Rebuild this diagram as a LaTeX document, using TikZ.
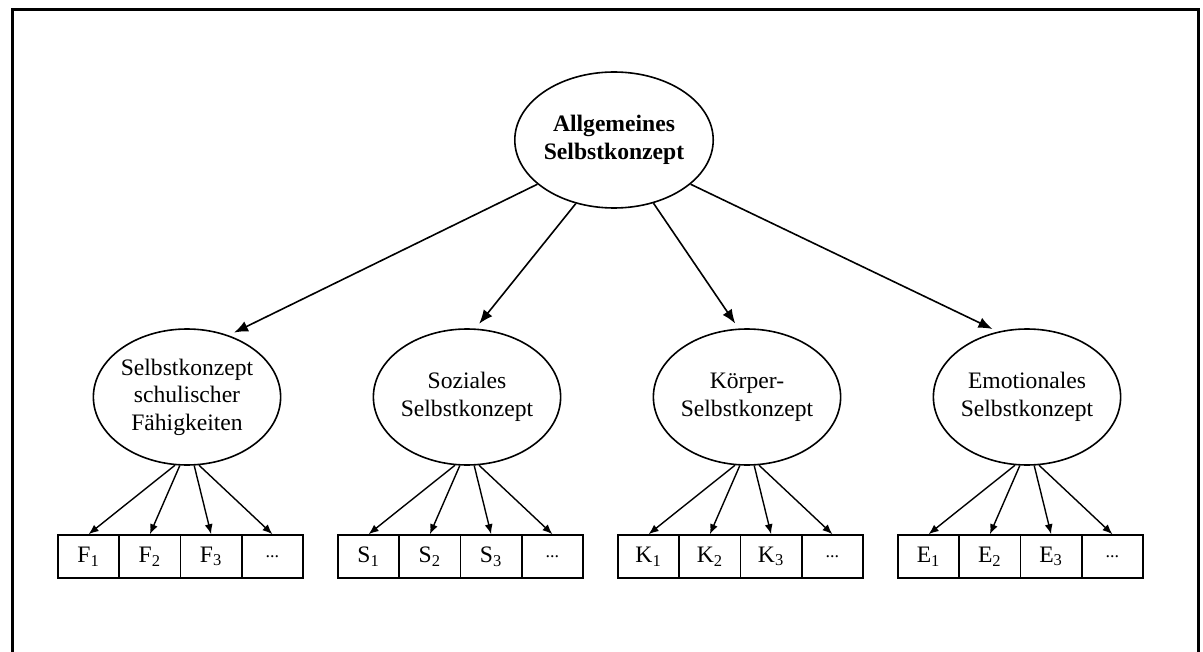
\documentclass[tikz,border=0pt]{standalone}
\usepackage{fontspec}
\setmainfont{Liberation Serif}
\usetikzlibrary{shapes.geometric,arrows.meta}
\begin{document}
\begin{tikzpicture}[x=0.5pt,y=0.5pt]
\tikzstyle{every node}+=[inner sep=0pt, font=\fontsize{11.8}{13.8}\selectfont]
\tikzstyle{concept}=[draw, ellipse, line width=0.8pt, minimum width=92pt, minimum height=68pt, align=center]
\tikzstyle{item}=[draw, rectangle, line width=0.8pt, minimum width=30.6pt, minimum height=21.5pt]
\tikzstyle{main}=[-{Latex[length=7pt,width=5.5pt]}, line width=0.8pt, shorten >=3pt]
\tikzstyle{sub}=[-{Latex[length=5pt,width=4pt]}, line width=0.7pt]
\newcommand{\dotsbox}{{\fontsize{9}{10}\selectfont ...}}
\useasboundingbox (0,0) rectangle (1203,-652);
\draw [black, line width=1.5pt] (12,-652) -- (12,-10) -- (1198,-10) -- (1198,-652);
% concepts
\node [concept] (top) at (614,-140) {\textbf{Allgemeines}\\\textbf{Selbstkonzept}};
\node [concept] (fsk) at (187,-397) {Selbstkonzept\\schulischer\\Fähigkeiten};
\node [concept] (ssk) at (467,-397) {Soziales\\Selbstkonzept};
\node [concept] (ksk) at (747,-397) {Körper-\\Selbstkonzept};
\node [concept] (esk) at (1027,-397) {Emotionales\\Selbstkonzept};
% items
\node [item] (f1) at (88.6,-556.5) {F\textsubscript{1}};
\node [item] (f2) at (149.9,-556.5) {F\textsubscript{2}};
\node [item] (f3) at (211.1,-556.5) {F\textsubscript{3}};
\node [item] (f4) at (272.4,-556.5) {\dotsbox};
\node [item] (s1) at (368.6,-556.5) {S\textsubscript{1}};
\node [item] (s2) at (429.9,-556.5) {S\textsubscript{2}};
\node [item] (s3) at (491.1,-556.5) {S\textsubscript{3}};
\node [item] (s4) at (552.4,-556.5) {\dotsbox};
\node [item] (k1) at (648.6,-556.5) {K\textsubscript{1}};
\node [item] (k2) at (709.9,-556.5) {K\textsubscript{2}};
\node [item] (k3) at (771.1,-556.5) {K\textsubscript{3}};
\node [item] (k4) at (832.4,-556.5) {\dotsbox};
\node [item] (e1) at (928.6,-556.5) {E\textsubscript{1}};
\node [item] (e2) at (989.9,-556.5) {E\textsubscript{2}};
\node [item] (e3) at (1051.1,-556.5) {E\textsubscript{3}};
\node [item] (e4) at (1112.4,-556.5) {\dotsbox};
% top level
\draw [main] (top.210) -- (fsk.56);
\draw [main] (top.239) -- (ssk.83);
\draw [main] (top.302) -- (ksk.97);
\draw [main] (top.330) -- (esk.114);
% items
\draw [sub] (fsk.260) -- (f1.north);
\draw [sub] (fsk.264) -- (f2.north);
\draw [sub] (fsk.276) -- (f3.north);
\draw [sub] (fsk.280) -- (f4.north);
\draw [sub] (ssk.260) -- (s1.north);
\draw [sub] (ssk.264) -- (s2.north);
\draw [sub] (ssk.276) -- (s3.north);
\draw [sub] (ssk.280) -- (s4.north);
\draw [sub] (ksk.260) -- (k1.north);
\draw [sub] (ksk.264) -- (k2.north);
\draw [sub] (ksk.276) -- (k3.north);
\draw [sub] (ksk.280) -- (k4.north);
\draw [sub] (esk.260) -- (e1.north);
\draw [sub] (esk.264) -- (e2.north);
\draw [sub] (esk.276) -- (e3.north);
\draw [sub] (esk.280) -- (e4.north);
\end{tikzpicture}
\end{document}
